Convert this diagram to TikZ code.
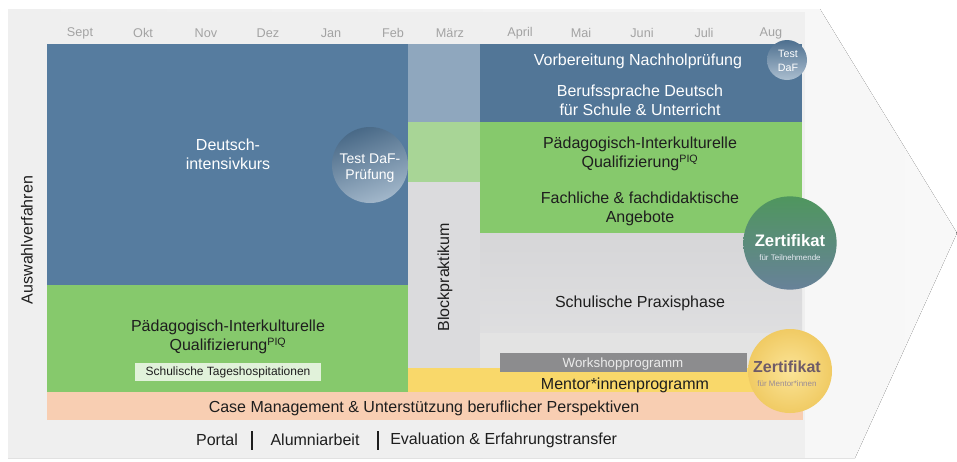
\documentclass[tikz,border=0pt]{standalone}
\usepackage{fontspec}
\setmainfont{Liberation Sans}
\usetikzlibrary{shapes.geometric}
\definecolor{cpanel}{HTML}{EFEFEF}
\definecolor{cchev}{HTML}{F8F8F8}
\definecolor{cblue}{HTML}{567C9F}
\definecolor{cgreen}{HTML}{86C96C}
\definecolor{cbpblue}{HTML}{8FA7BE}
\definecolor{cbpgreen}{HTML}{A8D596}
\definecolor{cbpgray}{HTML}{DBDBDD}
\definecolor{cgray}{HTML}{D6D6D8}
\definecolor{cgraylt}{HTML}{E3E3E3}
\definecolor{cyellow}{HTML}{F9D86A}
\definecolor{corange}{HTML}{F8CEB2}
\definecolor{cwork}{HTML}{8C8C8E}
\definecolor{cmonth}{HTML}{A3A3A3}
\definecolor{cdark}{HTML}{1E1E1E}
\definecolor{cmentor}{HTML}{6E5B68}
\definecolor{czgreen}{HTML}{4F965E}
\definecolor{czmid}{HTML}{457A74}
\definecolor{czblue}{HTML}{4D6B87}
\begin{document}
\begin{tikzpicture}[x=0.75pt,y=-0.75pt,
  big/.style={font=\fontsize{12}{14.5}\selectfont, align=center, inner sep=0pt},
  month/.style={font=\fontsize{9.5}{11}\selectfont, text=cmonth, inner sep=0pt},
  onblue/.style={big, text=white},
  ongreen/.style={big, text=cdark},
  disc/.style={circle, inner sep=0pt, draw=none}]
\useasboundingbox (0,0) rectangle (957,461);
% background chevron and panel
\fill[left color=cpanel, right color=cchev] (8,9) -- (820,9) -- (957,233) -- (855,458) -- (8,458) -- cycle;
\fill[cpanel] (8,12) rectangle (805,458);
% left blocks
\fill[cblue] (47,44) rectangle (409,286);
\fill[cgreen] (47,285) rectangle (409,393);
% Blockpraktikum column
\fill[cbpblue] (408,44) rectangle (481,122);
\fill[cbpgreen] (408,122) rectangle (481,182);
\fill[cbpgray] (408,182) rectangle (481,370);
% right column
\fill[cblue!95!black] (480,44) rectangle (802,122);
\fill[cgreen] (480,122) rectangle (802,233);
\fill[top color=cgray, bottom color=cgray!80!white] (480,233) rectangle (802,334);
\fill[cgraylt] (480,333) rectangle (802,369);
% yellow and orange bars
\fill[cyellow] (408,368) rectangle (790,393);
\fill[cwork] (500,353) rectangle (747,372);
\fill[corange] (47,392) rectangle (803,420);
% months
\foreach \m/\x [count=\i] in {Sept/80,Okt/143,Nov/206,Dez/268,Jan/331,Feb/393,März/450,April/520,Mai/581,Juni/642,Juli/704,Aug/771}
  \node[month] (m\i) at (\x,33) {\m};
% texts left
\node[onblue] (dik) at (228,154) {Deutsch-\\intensivkurs};
\node[ongreen] (piql) at (228,337) {Pädagogisch-Interkulturelle\\Qualifizierung\textsuperscript{PIQ}};
\node[fill=white!75!cgreen, minimum width=139pt, minimum height=13pt, inner sep=0pt,
      font=\fontsize{9}{10}\selectfont, text=cdark] (hosp) at (228,372) {Schulische Tageshospitationen};
\node[big, text=cdark, rotate=90] (ausw) at (27,240) {Auswahlverfahren};
\node[big, text=cdark, rotate=90] (block) at (445,277) {Blockpraktikum};
% texts right
\node[onblue] (vorb) at (638,61) {Vorbereitung Nachholprüfung};
\node[onblue] (beruf) at (640,100) {Berufssprache Deutsch\\für Schule \& Unterricht};
\node[ongreen] (piqr) at (640,154) {Pädagogisch-Interkulturelle\\Qualifizierung\textsuperscript{PIQ}};
\node[ongreen] (fach) at (640,209) {Fachliche \& fachdidaktische\\Angebote};
\node[big, text=cdark] (praxis) at (640,303) {Schulische Praxisphase};
\node[font=\fontsize{10}{12}\selectfont, text=white!92!black, inner sep=0pt] (work) at (623,364) {Workshopprogramm};
\node[big, text=cdark] (mentor) at (625,385) {Mentor*innenprogramm};
\node[big, text=cdark] (case) at (424,408) {Case Management \& Unterstützung beruflicher Perspektiven};
% bottom line
\node[big, text=cdark] (portal) at (217,440) {Portal};
\node[big, text=cdark] (alumni) at (315,440) {Alumniarbeit};
\node[big, text=cdark, anchor=west] (eval) at (390,440) {Evaluation \& Erfahrungstransfer};
\draw[cdark, line width=0.8pt] (252,431) -- (252,450);
\draw[cdark, line width=0.8pt] (378,431) -- (378,450);
% circles
\node[disc, minimum size=57pt, top color=cblue!85!black, bottom color=cblue!55!white, shading angle=20] (tdp) at (370,165) {};
\node[big, font=\fontsize{10.5}{12.5}\selectfont, text=white] (tdpt) at (370,168) {Test DaF-\\Prüfung};
\node[disc, minimum size=30pt, top color=cblue!90!black, bottom color=cblue!50!white] (tds) at (787,60) {};
\node[big, font=\fontsize{8}{10}\selectfont, text=white] (tdst) at (788,61) {Test\\DaF};
\node[disc, minimum size=70pt, top color=czgreen, middle color=czmid, bottom color=czblue!85!white] (zt) at (790,243) {};
\node[font=\bfseries\fontsize{12.5}{14}\selectfont, text=white, inner sep=0pt] (ztt) at (790,241) {Zertifikat};
\node[font=\fontsize{6}{7}\selectfont, text=white!85!cblue, inner sep=0pt] (zts) at (790,258) {für Teilnehmende};
\node[disc, minimum size=63pt, inner color=cyellow!70!white, outer color=cyellow!85!brown] (zm) at (790,371) {};
\node[font=\bfseries\fontsize{12}{14}\selectfont, text=cmentor, inner sep=0pt] (zmt) at (787,367) {Zertifikat};
\node[font=\fontsize{6}{7}\selectfont, text=cmentor!70!white, inner sep=0pt] (zms) at (787,384) {für Mentor*innen};
\end{tikzpicture}
\end{document}
